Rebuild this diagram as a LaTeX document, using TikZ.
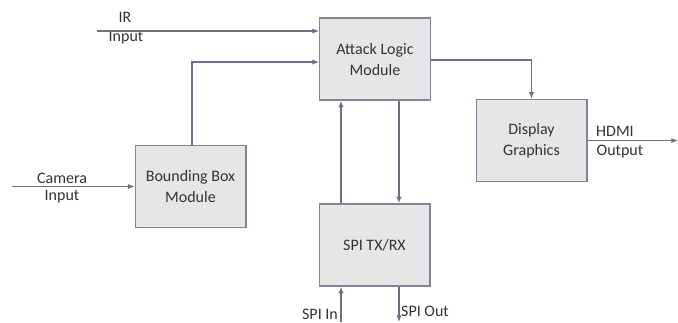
\documentclass[tikz,border=0pt]{standalone}
\usepackage{fontspec}
\setmainfont{Carlito}
\usetikzlibrary{arrows.meta}
\definecolor{boxfill}{HTML}{E6E6E6}
\definecolor{boxline}{HTML}{7F8797}
\definecolor{wirecol}{HTML}{687284}
\definecolor{txtcol}{HTML}{333333}

\begin{document}
\begin{tikzpicture}[x=0.75pt, y=-0.75pt, >={Latex[length=5pt,width=4pt]},
    every node/.style={font=\fontsize{12}{15.75}\selectfont, text=txtcol},
    block/.style={draw=boxline, fill=boxfill, line width=1pt, minimum width=83pt,
        minimum height=61.5pt, align=center, inner sep=0pt},
    wire/.style={draw=wirecol, line width=0.9pt}]
    \useasboundingbox (0,0) rectangle (678,322);

    % blocks
    \node[block] (attack) at (375,59) {Attack Logic\\Module};
    \node[block] (display) at (531.5,140.5) {Display\\Graphics};
    \node[block] (bbox) at (190.5,186.5) {Bounding Box\\Module};
    \node[block] (spi) at (374.5,245) {SPI TX/RX};

    % free ends
    \coordinate (irin) at (97,31);
    \coordinate (camin) at (12,186.5);
    \coordinate (hdmiout) at (678,140.5);
    \coordinate (spiin) at (341,322);
    \coordinate (spiout) at (399,322);

    % labels
    \node (irlbl) at (125,17) {IR};
    \node (irlbl2) at (126,38) {Input};
    \node (camlbl) at (62,178) {Camera};
    \node (camlbl2) at (62,197) {Input};
    \node (hdmilbl) at (615,131) {HDMI};
    \node (hdmilbl2) at (620,152) {Output};
    \node (spiinlbl) at (320,314) {SPI In};
    \node (spioutlbl) at (425,311) {SPI Out};

    % connectors
    \draw[wire,->] (irin) -- (attack.west |- irin);
    \draw[wire,->] (bbox.north -| 192,0) |- (attack.west |- 0,62);
    \draw[wire,->] (camin) -- (bbox.west |- camin);
    \draw[wire,->] (attack.east |- 0,60) -| (display.north);
    \draw[wire,->] (display.east) -- (hdmiout);
    \draw[wire,->] (spi.north -| 341,0) -- (attack.south -| 341,0);
    \draw[wire,->] (attack.south -| 399,0) -- (spi.north -| 399,0);
    \draw[wire,->] (spiin) -- (spi.south -| spiin);
    \draw[wire,->] (spi.south -| spiout) -- (spiout);
\end{tikzpicture}
\end{document}
